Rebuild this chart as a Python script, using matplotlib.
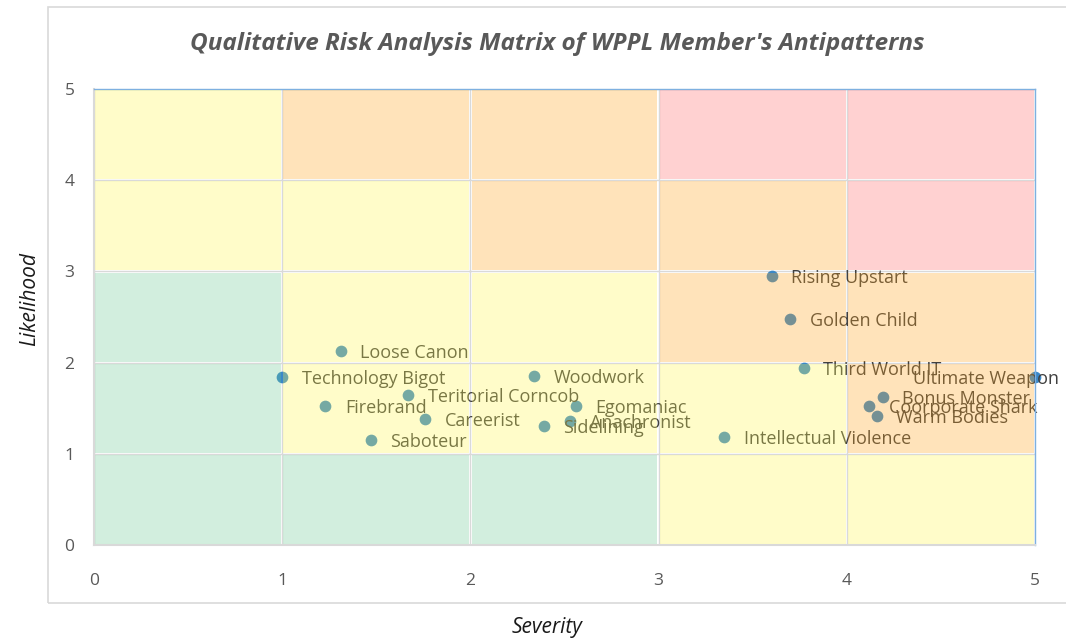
import matplotlib.pyplot as plt
from matplotlib.patches import Rectangle

names = ["Loose Canon", "Technology Bigot", "Teritorial Corncob", "Firebrand",
         "Careerist", "Saboteur", "Woodwork", "Egomaniac", "Sidelining",
         "Anachronist", "Intellectual Violence", "Rising Upstart", "Golden Child",
         "Third World IT", "Ultimate Weapon", "Bonus Monster", "Coorporate Shark",
         "Warm Bodies"]
severity = [1.31, 1.0, 1.67, 1.23, 1.76, 1.47, 2.34, 2.56, 2.39,
            2.53, 3.35, 3.60, 3.70, 3.77, 5.0, 4.19, 4.12, 4.16]
likelihood = [2.13, 1.84, 1.65, 1.52, 1.38, 1.15, 1.85, 1.52, 1.31,
              1.36, 1.18, 2.95, 2.48, 1.94, 1.84, 1.62, 1.52, 1.42]

# risk level of each cell, rows from likelihood 0-1 (bottom) up to 4-5
risk = [["G", "G", "G", "Y", "Y"],
        ["G", "Y", "Y", "Y", "O"],
        ["G", "Y", "Y", "O", "O"],
        ["Y", "Y", "O", "O", "R"],
        ["Y", "O", "O", "R", "R"]]
# translucent overlay colours (drawn on top of the points, like the original)
cell_colors = {"G": "#6dc992", "Y": "#fff84f", "O": "#ffa41d", "R": "#ff6868"}
cell_alpha = 0.3

plt.rcParams['font.family'] = ['Open Sans', 'DejaVu Sans']

fig = plt.figure(figsize=(10.66, 6.44), dpi=100)
ax = fig.add_axes([0.0882, 0.1537, 0.8827, 0.7081])

# chart area border
fig.patches.append(Rectangle((0.045, 0.064), 1.0, 0.925, transform=fig.transFigure,
                             fill=False, edgecolor='#d9d9d9', linewidth=1.2))

ax.scatter(severity, likelihood, s=55, color='#3a88c8', zorder=2, clip_on=False)
for n, sx, ly in zip(names, severity, likelihood):
    if sx >= 4.9:
        ax.annotate(n, (sx, ly), xytext=(17, -1.5), textcoords='offset points',
                    ha='right', va='center', fontsize=13, color='#404040', zorder=2)
    else:
        ax.annotate(n, (sx, ly), xytext=(14, -1.5), textcoords='offset points',
                    ha='left', va='center', fontsize=13, color='#404040', zorder=2)

for r in range(5):
    for c in range(5):
        ax.add_patch(Rectangle((c + 0.006, r + 0.012), 0.988, 0.976,
                               facecolor=cell_colors[risk[r][c]], alpha=cell_alpha,
                               edgecolor='none', zorder=3))

ax.set_xlim(0, 5)
ax.set_ylim(0, 5)
ax.set_xticks(range(6))
ax.set_yticks(range(6))
ax.grid(color='#d9d9d9', linewidth=1)
ax.set_axisbelow(True)
ax.tick_params(length=0, labelsize=12.5, labelcolor='#595959')
ax.tick_params(axis='x', pad=20)
ax.tick_params(axis='y', pad=14)

for s in ['top', 'right']:
    ax.spines[s].set_color('#7eb0e0')
    ax.spines[s].set_linewidth(1)
for s in ['left', 'bottom']:
    ax.spines[s].set_color('#d9d9d9')
    ax.spines[s].set_linewidth(1.5)

fig.text(0.523, 0.931, "Qualitative Risk Analysis Matrix of WPPL Member's Antipatterns",
         ha='center', va='center', fontsize=17.5, fontweight='bold', style='italic',
         color='#595959')
fig.text(0.513, 0.025, 'Severity', ha='center', va='center', fontsize=15,
         style='italic', color='#1a1a1a')
fig.text(0.028, 0.535, 'Likelihood', ha='center', va='center', fontsize=15,
         style='italic', rotation=90, color='#1a1a1a')

plt.savefig('out.png', dpi=100)
